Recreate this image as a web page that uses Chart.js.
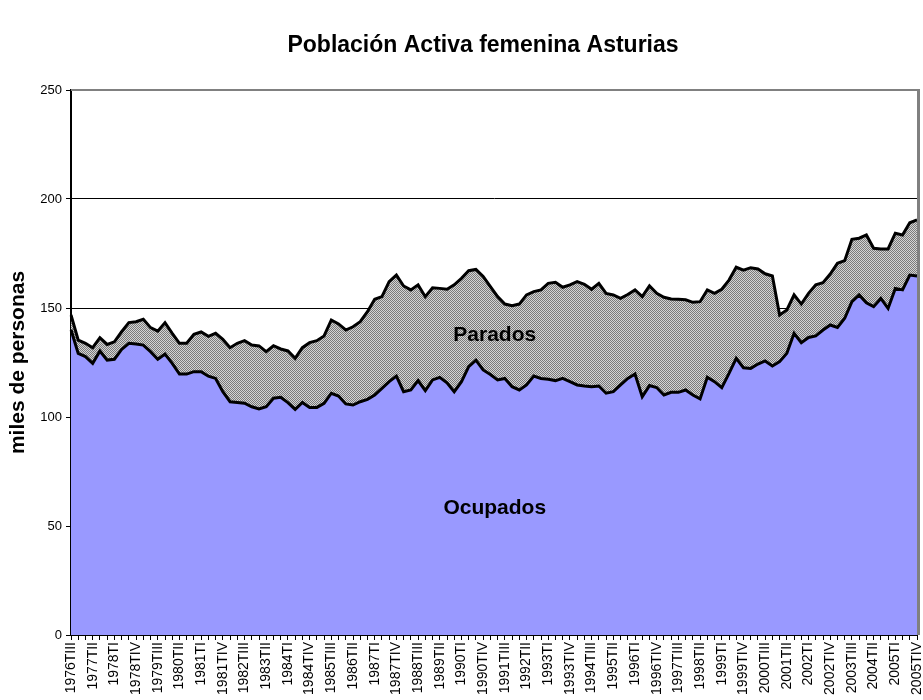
<!DOCTYPE html>
<html><head><meta charset="utf-8">
<script src="https://cdn.jsdelivr.net/npm/chart.js@4.4.1/dist/chart.umd.min.js"></script>
<style>html,body{margin:0;padding:0;background:#fff;}canvas{display:block;}</style>
</head><body>
<canvas id="c" width="923" height="700"></canvas>
<script>
const titulo = "Población Activa femenina Asturias";
const tituloEjeY = "miles de personas";
const nombreOcupados = "Ocupados";
const nombreParados = "Parados";

const categorias = [
"1976TIII","1976TIV",
"1977TI","1977TII","1977TIII","1977TIV",
"1978TI","1978TII","1978TIII","1978TIV",
"1979TI","1979TII","1979TIII","1979TIV",
"1980TI","1980TII","1980TIII","1980TIV",
"1981TI","1981TII","1981TIII","1981TIV",
"1982TI","1982TII","1982TIII","1982TIV",
"1983TI","1983TII","1983TIII","1983TIV",
"1984TI","1984TII","1984TIII","1984TIV",
"1985TI","1985TII","1985TIII","1985TIV",
"1986TI","1986TII","1986TIII","1986TIV",
"1987TI","1987TII","1987TIII","1987TIV",
"1988TI","1988TII","1988TIII","1988TIV",
"1989TI","1989TII","1989TIII","1989TIV",
"1990TI","1990TII","1990TIII","1990TIV",
"1991TI","1991TII","1991TIII","1991TIV",
"1992TI","1992TII","1992TIII","1992TIV",
"1993TI","1993TII","1993TIII","1993TIV",
"1994TI","1994TII","1994TIII","1994TIV",
"1995TI","1995TII","1995TIII","1995TIV",
"1996TI","1996TII","1996TIII","1996TIV",
"1997TI","1997TII","1997TIII","1997TIV",
"1998TI","1998TII","1998TIII","1998TIV",
"1999TI","1999TII","1999TIII","1999TIV",
"2000TI","2000TII","2000TIII","2000TIV",
"2001TI","2001TII","2001TIII","2001TIV",
"2002TI","2002TII","2002TIII","2002TIV",
"2003TI","2003TII","2003TIII","2003TIV",
"2004TI","2004TII","2004TIII","2004TIV",
"2005TI","2005TII","2005TIII","2005TIV"
];

// Ocupados (miles de personas)
const ocupados = [
140.0,129.2,127.7,124.6,130.3,126.1,126.5,131.0,133.8,133.5,
133.0,130.0,126.5,128.9,124.6,119.7,119.7,120.8,120.8,118.7,
117.7,111.6,107.0,106.7,106.3,104.7,103.7,104.7,108.6,109.0,
106.6,103.5,106.7,104.4,104.4,106.3,110.9,109.6,106.0,105.5,
107.0,108.1,110.1,113.1,116.2,118.8,111.6,112.4,116.7,112.1,
117.0,118.2,115.7,111.6,116.2,123.1,126.1,121.6,119.5,117.0,
117.7,113.9,112.4,114.7,118.8,117.7,117.3,116.7,117.7,116.2,
114.7,114.2,113.9,114.2,110.9,111.6,114.7,117.7,119.7,109.3,
114.4,113.5,110.1,111.3,111.3,112.4,110.1,108.3,118.2,116.2,
113.5,120.0,126.9,122.6,122.3,124.3,125.7,123.4,125.4,129.2,
138.4,134.1,136.5,137.2,139.9,142.2,141.1,145.3,152.9,156.0,
152.4,150.6,154.4,149.8,159.0,158.3,165.1,164.7
];

// Población activa total = ocupados + parados (miles de personas)
const activos = [
146.8,135.3,133.8,131.8,136.4,133.3,134.5,139.1,143.3,143.7,
144.8,141.0,139.4,143.3,138.4,133.8,133.8,137.9,139.0,137.0,
138.4,135.6,131.8,133.8,135.0,133.0,132.6,130.0,132.7,131.2,
130.3,126.9,131.8,134.1,135.0,137.2,144.5,142.7,139.9,141.4,
143.7,148.3,154.0,155.2,162.1,165.1,160.1,158.3,160.6,155.2,
159.3,159.0,158.6,160.6,163.6,167.1,167.7,164.5,159.8,155.2,
151.8,151.1,151.8,156.0,157.5,158.3,161.3,161.8,159.5,160.6,
162.1,160.9,158.6,161.3,156.7,156.0,154.4,156.2,158.3,155.2,
160.1,156.7,154.9,154.1,154.0,153.8,152.6,152.9,158.3,156.7,
158.6,162.8,168.7,167.4,168.5,167.9,165.7,164.7,146.8,149.1,
156.0,151.8,156.7,160.6,161.6,165.6,170.5,171.7,181.5,182.0,
183.5,177.4,177.1,177.1,184.3,183.5,189.1,190.4
];

const ejeYMin = 0, ejeYMax = 250, ejeYPaso = 50;

const FAMILIA = 'Arial, "Liberation Sans", sans-serif';
Chart.defaults.font.family = FAMILIA;
Chart.defaults.color = '#000';

function crearTrama() {
  const c = document.createElement('canvas');
  c.width = 2; c.height = 2;
  const x = c.getContext('2d');
  x.fillStyle = '#d4d4d4'; x.fillRect(0, 0, 2, 2);
  x.fillStyle = '#7a7a7a'; x.fillRect(0, 0, 1, 1); x.fillRect(1, 1, 1, 1);
  return x.createPattern(c, 'repeat');
}

const marco = {
  id: 'marco',
  afterDatasetsDraw(chart) {
    const ctx = chart.ctx, a = chart.chartArea;
    const xs = chart.scales.x, ys = chart.scales.y;
    ctx.save();
    ctx.strokeStyle = '#808080';
    ctx.lineWidth = 2;
    ctx.beginPath(); ctx.moveTo(a.left, a.top); ctx.lineTo(a.right + 3, a.top); ctx.stroke();
    ctx.lineWidth = 3;
    ctx.beginPath(); ctx.moveTo(a.right + 1.5, a.top - 1); ctx.lineTo(a.right + 1.5, a.bottom); ctx.stroke();
    ctx.fillStyle = '#000';
    ctx.font = 'bold 21px ' + FAMILIA;
    ctx.textAlign = 'center';
    ctx.textBaseline = 'middle';
    ctx.fillText(nombreParados, xs.getPixelForValue(58.6), ys.getPixelForValue(137.6));
    ctx.fillText(nombreOcupados, xs.getPixelForValue(58.6), ys.getPixelForValue(58.0));
    ctx.font = 'bold 23px ' + FAMILIA;
    ctx.fillText(titulo, 483, 46);
    ctx.restore();
  }
};

new Chart(document.getElementById('c').getContext('2d'), {
  type: 'line',
  data: {
    labels: categorias,
    datasets: [
      { label: nombreOcupados, data: ocupados, borderColor: '#000', borderWidth: 3,
        backgroundColor: '#9999ff', fill: 'origin', pointRadius: 0, tension: 0 },
      { label: nombreParados, data: activos, borderColor: '#000', borderWidth: 3,
        backgroundColor: crearTrama(), fill: '-1', pointRadius: 0, tension: 0 }
    ]
  },
  options: {
    responsive: false, animation: false, devicePixelRatio: 1,
    layout: { padding: { left: 0, right: 6, top: 90, bottom: 0 } },
    plugins: {
      legend: { display: false },
      tooltip: { enabled: false },
      title: { display: false }
    },
    scales: {
      x: {
        ticks: { autoSkip: false, maxRotation: 90, minRotation: 90, color: '#000',
          font: { size: 14 }, padding: 2,
          callback: function (v, i) { return i % 3 === 0 ? categorias[i] : ''; } },
        grid: { drawOnChartArea: false, drawTicks: true, tickLength: 5, color: '#000' },
        border: { color: '#000', width: 2 },
        afterFit: function (s) { s.height = 65; s.paddingLeft = 0; s.paddingRight = 0; }
      },
      y: {
        min: ejeYMin, max: ejeYMax,
        ticks: { stepSize: ejeYPaso, color: '#000', font: { size: 13 }, padding: 4 },
        grid: { color: function (c) { return c.tick && c.tick.value === ejeYMax ? 'rgba(0,0,0,0)' : '#000'; },
          lineWidth: 1, tickLength: 5, tickColor: '#000' },
        border: { color: '#000', width: 2 },
        title: { display: true, text: tituloEjeY, color: '#000',
          font: { size: 21, weight: 'bold' }, padding: { top: 6, bottom: 0 } },
        afterFit: function (s) { s.width = 71; s.paddingTop = 0; s.paddingBottom = 0; }
      }
    }
  },
  plugins: [marco]
});
</script>
</body></html>
